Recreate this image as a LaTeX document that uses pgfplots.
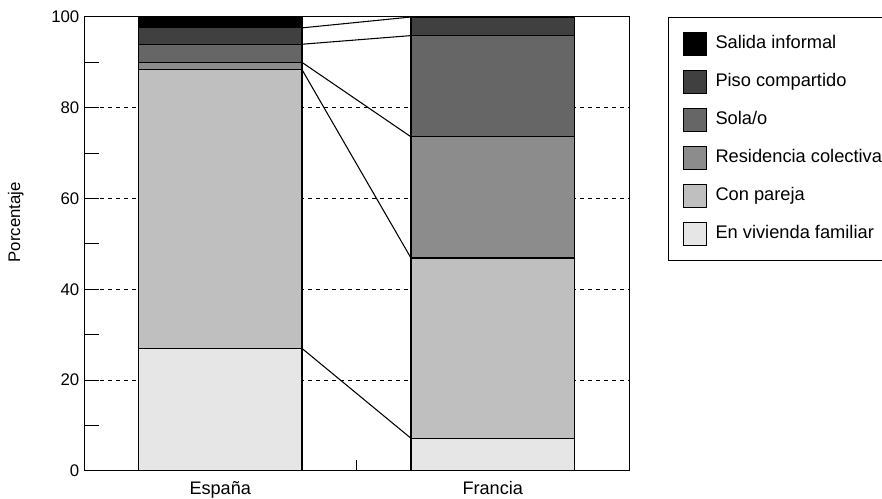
\documentclass[border=0pt]{standalone}
\usepackage{fontspec}
\setmainfont{Liberation Sans}
\usepackage{pgfplots}
\usepackage{pgfplotstable}
\pgfplotsset{compat=1.18}
\definecolor{cSI}{HTML}{000000}
\definecolor{cPC}{HTML}{404040}
\definecolor{cSO}{HTML}{666666}
\definecolor{cRC}{HTML}{8C8C8C}
\definecolor{cCP}{HTML}{BFBFBF}
\definecolor{cVF}{HTML}{E6E6E6}
\pgfplotstableread{
x VF CP RC SO PC SI
0 27.0 61.4 1.6 4.0 3.6 2.4
1 7.2 39.7 26.7 22.3 4.1 0.0
}\datatable
\pgfplotsset{mylegend/.style={legend image code/.code={\draw[##1,draw=black,line width=0.75pt] (0pt,-8.625pt) rectangle (17.25pt,8.625pt);}}}
\begin{document}
\fontsize{13}{15}\selectfont
\begin{tikzpicture}
\path[use as bounding box] (0,0) rectangle (661.5pt,374.25pt);
\begin{axis}[
 at={(63pt,21pt)}, anchor=south west,
 scale only axis, width=408.75pt, height=340.5pt,
 xmin=-0.5, xmax=1.5, ymin=0, ymax=100,
 ybar stacked, bar width=0.6,
 xtick={0,1}, xticklabels={España,Francia},
 xtick style={draw=none},
 ytick={0,20,40,60,80,100}, minor ytick={10,30,50,70,90},
 extra y ticks={20,40,60,80}, extra y tick labels={},
 extra y tick style={grid=major, tick style={draw=none}},
 grid style={black, line width=0.6pt, dash pattern=on 3pt off 3pt},
 tick align=inside, ytick pos=left, xtick pos=bottom,
 major tick length=11.25pt, minor tick length=11.25pt,
 ytick style={black, line width=0.75pt},
 axis line style={black, line width=0.75pt},
 /pgf/number format/assume math mode=true,
 yticklabel style={font=\fontsize{12.6}{14}\selectfont, xshift=1pt},
 xticklabel style={font=\fontsize{13.6}{15}\selectfont, yshift=-3pt},
 ylabel={Porcentaje},
 every axis y label/.style={at={(axis description cs:-0.125,0.548)}, rotate=90, anchor=center, font=\fontsize{12.6}{14}\selectfont},
 legend cell align=left, reverse legend,
 legend style={at={(1,1)}, anchor=north west, xshift=29pt, draw=black, line width=0.75pt, fill=white,
   inner xsep=11pt, inner ysep=10.9pt, row sep=10.5pt, column sep=6.5pt,
   nodes={inner sep=0pt, text height=9.5pt, text depth=2.5pt},
   font=\fontsize{13.7}{15}\selectfont},
]
\addplot[fill=cVF, draw=black, line width=0.9pt, mylegend] table[x=x,y=VF]{\datatable};
\addlegendentry{En vivienda familiar}
\addplot[fill=cCP, draw=black, line width=0.9pt, mylegend] table[x=x,y=CP]{\datatable};
\addlegendentry{Con pareja}
\addplot[fill=cRC, draw=black, line width=0.9pt, mylegend] table[x=x,y=RC]{\datatable};
\addlegendentry{Residencia colectiva}
\addplot[fill=cSO, draw=black, line width=0.9pt, mylegend] table[x=x,y=SO]{\datatable};
\addlegendentry{Sola/o}
\addplot[fill=cPC, draw=black, line width=0.9pt, mylegend] table[x=x,y=PC]{\datatable};
\addlegendentry{Piso compartido}
\addplot[fill=cSI, draw=black, line width=0.9pt, mylegend] table[x=x,y=SI]{\datatable};
\addlegendentry{Salida informal}
\end{axis}
\begin{axis}[
 at={(63pt,21pt)}, anchor=south west,
 scale only axis, width=408.75pt, height=340.5pt,
 xmin=-0.5, xmax=1.5, ymin=0, ymax=100,
 hide y axis, axis x line*=bottom, x axis line style={-, black, line width=0.75pt},
 xtick={0.5}, xticklabels={}, major tick length=8.5pt, tick align=inside,
 xtick style={black, line width=0.75pt},
]
\addplot[black, line width=0.8pt] coordinates {(0.3,27.0) (0.7,7.2)};
\addplot[black, line width=0.8pt] coordinates {(0.3,88.4) (0.7,46.9)};
\addplot[black, line width=0.8pt] coordinates {(0.3,90.0) (0.7,73.6)};
\addplot[black, line width=0.8pt] coordinates {(0.3,94.0) (0.7,95.9)};
\addplot[black, line width=0.8pt] coordinates {(0.3,97.6) (0.7,100)};
\end{axis}
\end{tikzpicture}
\end{document}
